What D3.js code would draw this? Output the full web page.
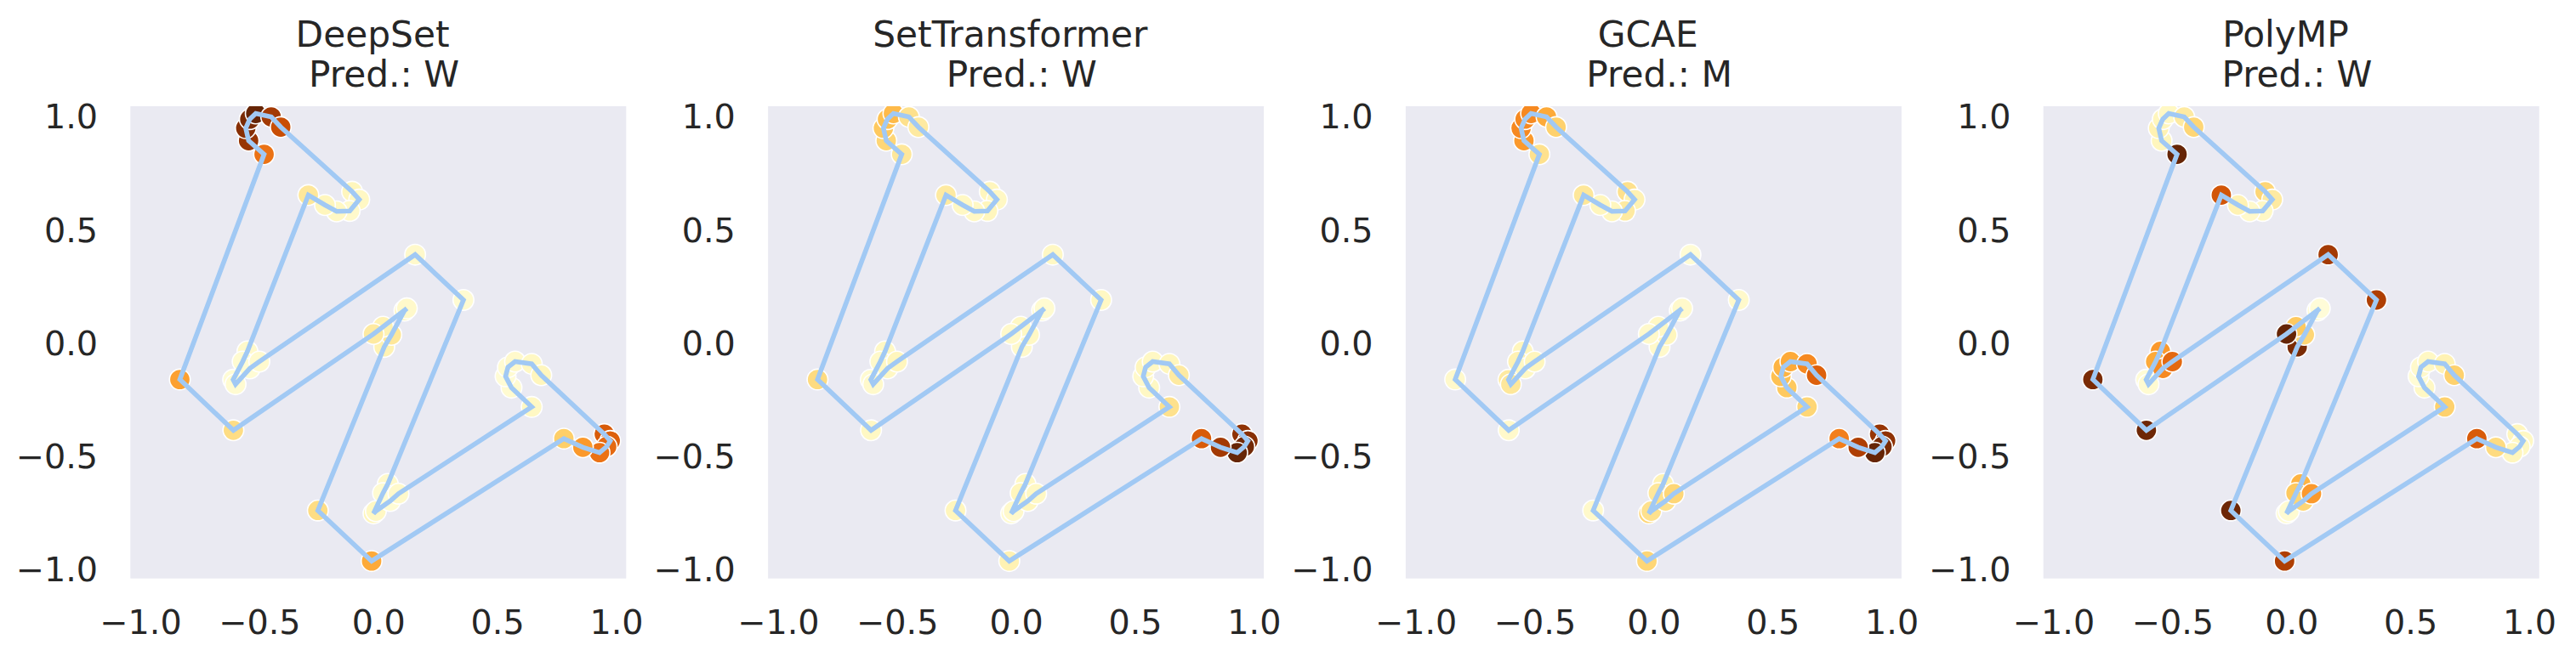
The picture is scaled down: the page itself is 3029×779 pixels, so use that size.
<!DOCTYPE html>
<html><head><meta charset="utf-8">
<script src="https://cdn.jsdelivr.net/npm/d3@7"></script>
<style>
body{margin:0;background:#fff}
svg{display:block}
text{font-family:"DejaVu Sans",sans-serif;fill:#262626}
</style>
</head><body>
<svg id="c" width="3029" height="779"></svg>
<script>
// ---------- data ----------
const models = ["DeepSet", "SetTransformer", "GCAE", "PolyMP"];
const preds = ["W", "W", "M", "W"];
const ticks = [-1.0, -0.5, 0.0, 0.5, 1.0];

// polygon vertices of the letter (closed outline, in order)
const ptX = [-0.48, -0.545, -0.557, -0.54, -0.515, -0.45, -0.41,
  -0.11, -0.08, -0.12, -0.175, -0.224, -0.294,
  -0.55, -0.57, -0.61, -0.6, -0.54, -0.5,
  0.155, 0.358,
  0.04, 0.02, -0.02, -0.01, 0.05, 0.085,
  0.645,
  0.56, 0.535, 0.545, 0.575, 0.645, 0.685,
  0.95, 0.975, 0.96, 0.93, 0.86, 0.78,
  -0.028, -0.254,
  0.025, 0.055, 0.11, 0.12, 0.02, -0.02,
  -0.609, -0.834];
const ptY = [0.83, 0.89, 0.945, 0.985, 1.01, 0.995, 0.95,
  0.665, 0.63, 0.58, 0.578, 0.606, 0.65,
  -0.04, -0.085, -0.165, -0.185, -0.115, -0.085,
  0.387, 0.187,
  -0.625, -0.665, -0.755, -0.745, -0.7, -0.668,
  -0.285,
  -0.2, -0.15, -0.11, -0.085, -0.095, -0.145,
  -0.405, -0.435, -0.46, -0.487, -0.463, -0.425,
  -0.965, -0.742,
  -0.02, 0.033, 0.14, 0.15, 0.069, 0.037,
  -0.388, -0.164];

// per-model vertex importance (colour value)
const impDeepSet = [0.62, 0.88, 0.92, 0.95, 1.0, 0.85, 0.75,
  0.12, 0.1, 0.08, 0.1, 0.12, 0.22,
  0.08, 0.06, 0.05, 0.06, 0.05, 0.07,
  0.08, 0.06,
  0.08, 0.06, 0.12, 0.1, 0.05, 0.08,
  0.1,
  0.06, 0.05, 0.06, 0.08, 0.1, 0.12,
  0.7, 0.68, 0.65, 0.62, 0.5, 0.33,
  0.45, 0.27,
  0.15, 0.22, 0.1, 0.08, 0.15, 0.2,
  0.27, 0.48];
const impSetTransformer = [0.22, 0.3, 0.35, 0.38, 0.4, 0.25, 0.2,
  0.12, 0.1, 0.12, 0.1, 0.1, 0.2,
  0.1, 0.08, 0.06, 0.08, 0.1, 0.12,
  0.1, 0.1,
  0.1, 0.12, 0.06, 0.08, 0.12, 0.1,
  0.25,
  0.1, 0.08, 0.12, 0.1, 0.12, 0.2,
  0.9, 0.92, 0.97, 1.0, 0.85, 0.7,
  0.15, 0.12,
  0.08, 0.1, 0.06, 0.06, 0.1, 0.08,
  0.1, 0.28];
const impGCAE = [0.25, 0.5, 0.55, 0.55, 0.55, 0.45, 0.32,
  0.25, 0.15, 0.2, 0.12, 0.12, 0.22,
  0.12, 0.15, 0.2, 0.22, 0.1, 0.12,
  0.05, 0.08,
  0.15, 0.22, 0.3, 0.25, 0.25, 0.3,
  0.3,
  0.35, 0.38, 0.42, 0.45, 0.55, 0.68,
  0.88, 0.9, 0.95, 1.0, 0.82, 0.58,
  0.3, 0.08,
  0.08, 0.12, 0.06, 0.08, 0.1, 0.08,
  0.08, 0.08];
const impPolyMP = [1.0, 0.12, 0.15, 0.12, 0.1, 0.2, 0.3,
  0.3, 0.2, 0.1, 0.08, 0.15, 0.72,
  0.5, 0.45, 0.05, 0.06, 0.55, 0.65,
  0.85, 0.82,
  0.42, 0.35, 0.05, 0.06, 0.3, 0.5,
  0.32,
  0.1, 0.05, 0.08, 0.1, 0.15, 0.32,
  0.12, 0.1, 0.1, 0.12, 0.28, 0.7,
  0.82, 0.98,
  0.95, 0.3, 0.05, 0.04, 0.35, 1.0,
  0.98, 0.95];
const importances = [impDeepSet, impSetTransformer, impGCAE, impPolyMP];

// ---------- layout ----------
const plotW = 583, plotH = 555.7, plotTop = 125;
const firstLeft = 153.3, step = 749.8;
const lim = 1.042;
const tickFont = 39.7, titleFont = 42.3;
const bg = "#eaeaf2", lineColor = "#a1c9f4";

const svg = d3.select("#c");
const fmt = d3.format(".1f");
const color = d3.scaleSequential(d3.interpolateYlOrBr).domain([0, 1]);

const pts = ptX.map((x, i) => ({x, y: ptY[i]}));

models.forEach((m, k) => {
  const left = firstLeft + k * step;
  const g = svg.append("g").attr("transform", `translate(${left},${plotTop})`);
  const x = d3.scaleLinear().domain([-lim, lim]).range([0, plotW]);
  const y = d3.scaleLinear().domain([-lim, lim]).range([plotH, 0]);

  g.append("rect").attr("width", plotW).attr("height", plotH).attr("fill", bg);

  const clipId = "clip" + k;
  g.append("clipPath").attr("id", clipId)
    .append("rect").attr("width", plotW).attr("height", plotH);

  const inner = g.append("g").attr("clip-path", `url(#${clipId})`);
  const imp = importances[k];

  inner.selectAll("circle").data(pts).join("circle")
    .attr("cx", d => x(d.x)).attr("cy", d => y(d.y))
    .attr("r", 12.2)
    .attr("fill", (d, i) => color(imp[i]))
    .attr("stroke", "#fff").attr("stroke-width", 1.6);

  const line = d3.line().x(d => x(d.x)).y(d => y(d.y)).curve(d3.curveLinearClosed);
  inner.append("path").attr("d", line(pts))
    .attr("fill", "none").attr("stroke", lineColor)
    .attr("stroke-width", 5.6).attr("stroke-linejoin", "miter");

  // axes
  const ax = g.append("g").attr("transform", `translate(0,${plotH})`)
    .call(d3.axisBottom(x).tickValues(ticks).tickFormat(fmt).tickSize(0).tickPadding(37.6));
  ax.select(".domain").remove();
  ax.selectAll("text").attr("font-size", tickFont).attr("font-family", "DejaVu Sans").attr("fill", "#262626");

  const ay = g.append("g")
    .call(d3.axisLeft(y).tickValues(ticks).tickFormat(fmt).tickSize(0).tickPadding(38.3));
  ay.select(".domain").remove();
  ay.selectAll("text").attr("font-size", tickFont).attr("dy", "0.3645em")
    .attr("font-family", "DejaVu Sans").attr("fill", "#262626");

  // title: "<model> \n Pred.: <p>" (trailing / leading spaces kept)
  const t = g.append("text").attr("text-anchor", "middle")
    .attr("font-size", titleFont).attr("x", plotW / 2)
    .attr("xml:space", "preserve").style("white-space", "pre");
  t.append("tspan").attr("x", plotW / 2).attr("y", 54.5 - plotTop)
    .style("white-space", "pre").text(m + " ");
  t.append("tspan").attr("x", plotW / 2).attr("y", 101.8 - plotTop)
    .style("white-space", "pre").text(" Pred.: " + preds[k]);
});
</script>
</body></html>
